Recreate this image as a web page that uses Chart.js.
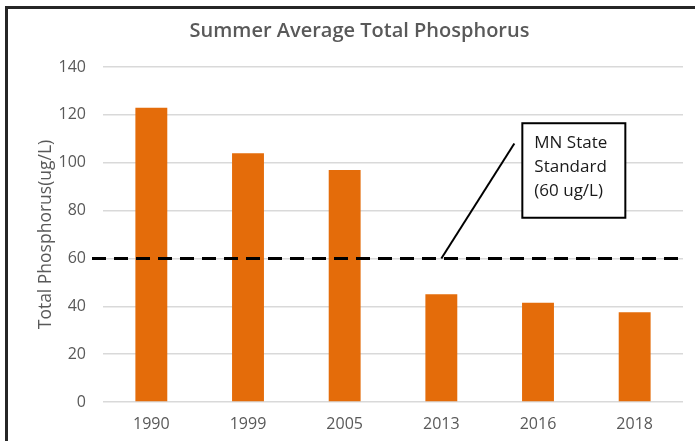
<!DOCTYPE html>
<html><head><meta charset="utf-8">
<script src="https://cdn.jsdelivr.net/npm/chart.js@4"></script>
<style>
html,body{margin:0;padding:0;background:#fff;}
#wrap{position:relative;width:695px;height:441px;}
#frame{position:absolute;left:5px;top:6px;right:0;bottom:0;border-top:3px solid #262626;border-left:3px solid #262626;pointer-events:none;}
canvas{position:absolute;left:0;top:0;}
</style></head>
<body>
<div id="wrap"><canvas id="c" width="695" height="441"></canvas><div id="frame"></div></div>
<script>
const categories = ["1990","1999","2005","2013","2016","2018"];
const phosphorus = [123, 104, 97, 45, 41.5, 37.5];
const yTicks = [0,20,40,60,80,100,120,140];
const standardValue = 60;
const standardLabel = ["MN State","Standard","(60 ug/L)"];

const FONT = "'Open Sans', 'Liberation Sans', sans-serif";

const standardPlugin = {
  id: 'standard',
  afterDatasetsDraw(chart){
    const {ctx, chartArea, scales:{x,y}} = chart;
    const yy = y.getPixelForValue(standardValue);
    ctx.save();
    ctx.strokeStyle = '#000';
    ctx.lineWidth = 3;
    ctx.setLineDash([14,8]);
    ctx.beginPath();
    ctx.moveTo(chartArea.left - 11, yy);
    ctx.lineTo(chartArea.right + 2, yy);
    ctx.stroke();
    ctx.setLineDash([]);
    const ax = x.getPixelForValue(3);
    ctx.lineWidth = 2;
    ctx.beginPath();
    ctx.moveTo(ax, yy);
    ctx.lineTo(ax + 73, y.getPixelForValue(108));
    ctx.stroke();
    const bx = ax + 81, by = y.getPixelForValue(116.5);
    const bw = 103, bh = y.getPixelForValue(77) - by;
    ctx.fillStyle = '#fff';
    ctx.fillRect(bx, by, bw, bh);
    ctx.lineWidth = 2;
    ctx.strokeRect(bx, by, bw, bh);
    ctx.fillStyle = '#1a1a1a';
    ctx.font = "17px " + FONT;
    ctx.textBaseline = 'middle';
    ctx.textAlign = 'left';
    standardLabel.forEach((t,i)=>ctx.fillText(t, bx + 12, by + 20 + i*24));
    ctx.restore();
  }
};

new Chart(document.getElementById('c'), {
  type: 'bar',
  data: {
    labels: categories,
    datasets: [{
      data: phosphorus,
      backgroundColor: '#E46C0A',
      borderWidth: 0,
      categoryPercentage: 1.0,
      barPercentage: 0.33
    }]
  },
  options: {
    responsive: false,
    animation: false,
    devicePixelRatio: 1,
    layout: { padding: { left: 36, right: 12, top: 13, bottom: 0 } },
    plugins: {
      legend: { display: false },
      tooltip: { enabled: false },
      title: {
        display: true,
        text: 'Summer Average Total Phosphorus',
        color: '#595959',
        font: { family: FONT, size: 20, weight: '600' },
        padding: { top: 6, bottom: 24 }
      }
    },
    scales: {
      x: {
        afterFit(scale){ scale.height = 39; },
        grid: { display: false, drawTicks: false },
        border: { display: false },
        ticks: { color: '#595959', font: { family: FONT, size: 16 }, padding: 13 }
      },
      y: {
        min: 0, max: 140,
        afterBuildTicks(scale){ scale.ticks = yTicks.map(v=>({value:v})); },
        afterFit(scale){ scale.width = 67; },
        grid: { color: '#d9d9d9', lineWidth: 1.5, drawTicks: false },
        border: { display: false },
        ticks: { color: '#595959', font: { family: FONT, size: 16 }, padding: 17 },
        title: {
          display: true,
          text: 'Total Phosphorus(ug/L)',
          color: '#595959',
          font: { family: FONT, size: 17.5 },
          padding: { top: 0, bottom: 0 }
        }
      }
    }
  },
  plugins: [standardPlugin]
});
</script>
</body></html>
